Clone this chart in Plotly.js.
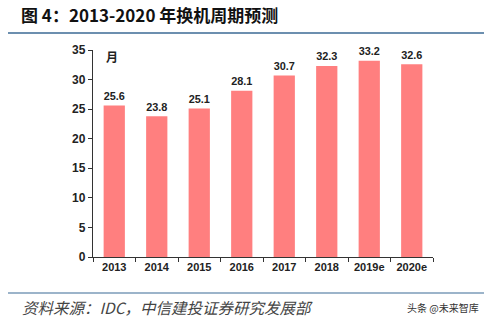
<!DOCTYPE html>
<html><head><meta charset="utf-8">
<script src="https://cdn.plot.ly/plotly-3.0.1.min.js"></script>
<style>html,body{margin:0;padding:0;background:#fff;}#c{width:484px;height:323px;}</style>
</head><body><div id="c"></div>
<script>
const years = ['2013','2014','2015','2016','2017','2018','2019e','2020e'];
const months = [25.6, 23.8, 25.1, 28.1, 30.7, 32.3, 33.2, 32.6];
const valueLabels = ['25.6','23.8','25.1','28.1','30.7','32.3','33.2','32.6'];
const yTicks = [0,5,10,15,20,25,30,35];

const trace = {
  type:'bar', x: years, y: months, text: valueLabels,
  textposition:'outside', cliponaxis:false,
  textfont:{family:'Liberation Sans, Arial', size:12.5, color:'#222'},
  texttemplate:'<b>%{text}</b>',
  marker:{color:'#FF7F7F'}, hoverinfo:'none'
};
const layout = {
  width:484, height:323, margin:{l:93, r:51, t:50, b:66},
  paper_bgcolor:'#fff', plot_bgcolor:'#fff', showlegend:false, bargap:0.5,
  font:{family:'Liberation Sans, Arial', color:'#222'},
  xaxis:{type:'category', showline:true, linecolor:'#333', linewidth:1.2,
    ticks:'outside', ticklen:4, tickcolor:'#333', tickson:'boundaries',
    tickfont:{size:11, color:'#222', weight:'bold'}, showgrid:false, fixedrange:true},
  yaxis:{range:[0,35], tickvals:yTicks, showline:true, linecolor:'#333', linewidth:1.2,
    ticks:'outside', ticklen:4, tickcolor:'#333', showgrid:false, zeroline:false,
    tickfont:{size:12, color:'#222', weight:'bold'}, fixedrange:true},
  shapes:[
    {type:'line', xref:'paper', yref:'paper', x0:-0.25, x1:1.2, y0:1+(50-33)/207, y1:1+(50-33)/207, line:{color:'#3b6a95', width:1.5}},
    {type:'line', xref:'paper', yref:'paper', x0:-0.25, x1:1.2, y0:-(293-257)/207, y1:-(293-257)/207, line:{color:'#3b6a95', width:1.2}}
  ],
  annotations:[
    {text:'<b>图 4：2013-2020 年换机周期预测</b>', xref:'paper', yref:'paper', x:-(93-19)/340, y:1+(50-15)/207,
     xanchor:'left', yanchor:'middle', showarrow:false, font:{family:'Noto Sans CJK SC', size:17, color:'#111'}},
    {text:'<b>月</b>', xref:'paper', yref:'paper', x:(112-93)/340, y:1-(57-50.5)/207,
     xanchor:'center', yanchor:'middle', showarrow:false, font:{family:'Noto Sans CJK SC', size:12, color:'#222'}},
    {text:'<i>资料来源：IDC，中信建投证券研究发展部</i>', xref:'paper', yref:'paper', x:-(93-20)/340, y:-(307-257)/207,
     xanchor:'left', yanchor:'middle', showarrow:false, font:{family:'Noto Sans CJK SC', size:15.5, color:'#444'}},
    {text:'头条 @未来智库', xref:'paper', yref:'paper', x:(405-93)/340, y:-(307-257)/207,
     xanchor:'left', yanchor:'middle', showarrow:false, font:{family:'Noto Sans CJK SC', size:10, color:'#333'}}
  ]
};
Plotly.newPlot('c',[trace],layout,{displayModeBar:false, staticPlot:true});
</script></body></html>
